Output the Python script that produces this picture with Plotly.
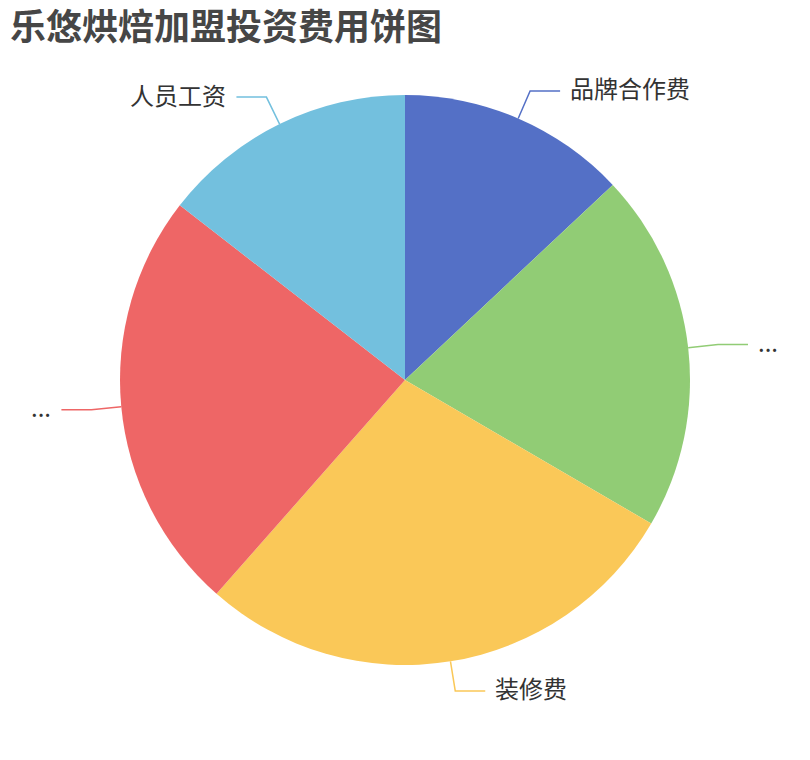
import math
import plotly.graph_objects as go

# 饼图数据
names = ['品牌合作费', '设备采购费', '装修费', '店面租金及押金', '人员工资']
shown = ['品牌合作费', '...', '装修费', '...', '人员工资']
values = [13.0, 20.4, 28.1, 24.0, 14.5]
colors = ['#5470c6', '#91cc75', '#fac858', '#ee6666', '#73c0de']

W, H = 802, 752          # 页面有 8px 的 body 边距
cx, cy, R = 397, 372, 285

px = lambda x: x / W
py = lambda y: 1 - y / H

fig = go.Figure()
fig.add_trace(go.Pie(
    labels=names, values=values, sort=False, direction='clockwise', rotation=0,
    marker=dict(colors=colors, line=dict(width=0)),
    textinfo='none', hoverinfo='label+value+percent',
    domain=dict(x=[px(cx - R), px(cx + R)], y=[py(cy + R), py(cy - R)]),
    showlegend=False,
))

# 标签引导线
total = sum(values)
acc = 0
for name, v, c in zip(shown, values, colors):
    mid = (acc + v / 2) / total * 2 * math.pi
    acc += v
    sx, sy = math.sin(mid), -math.cos(mid)
    x0, y0 = cx + R * sx, cy + R * sy
    x1, y1 = cx + (R + 30) * sx, cy + (R + 30) * sy
    side = 1 if sx >= 0 else -1
    x2 = x1 + 30 * side
    fig.add_shape(type='path', xref='paper', yref='paper',
                  path=f'M {px(x0)},{py(y0)} L {px(x1)},{py(y1)} L {px(x2)},{py(y1)}',
                  line=dict(color=c, width=1.5))
    fig.add_annotation(x=px(x2 + 8 * side), y=py(y1 - 3), xref='paper', yref='paper',
                       text=name, showarrow=False,
                       xanchor='left' if side > 0 else 'right', yanchor='middle',
                       font=dict(size=24, color='#333333'))

fig.update_layout(
    width=W, height=H,
    margin=dict(l=0, r=0, t=0, b=0),
    paper_bgcolor='white', plot_bgcolor='white',
    font=dict(family='Noto Sans CJK SC'),
    title=dict(text='<b>乐悠烘焙加盟投资费用饼图</b>', x=px(2), xanchor='left',
               y=py(19), yanchor='middle',
               font=dict(size=36, color='#464646')),
)

fig.write_html('out.html')
